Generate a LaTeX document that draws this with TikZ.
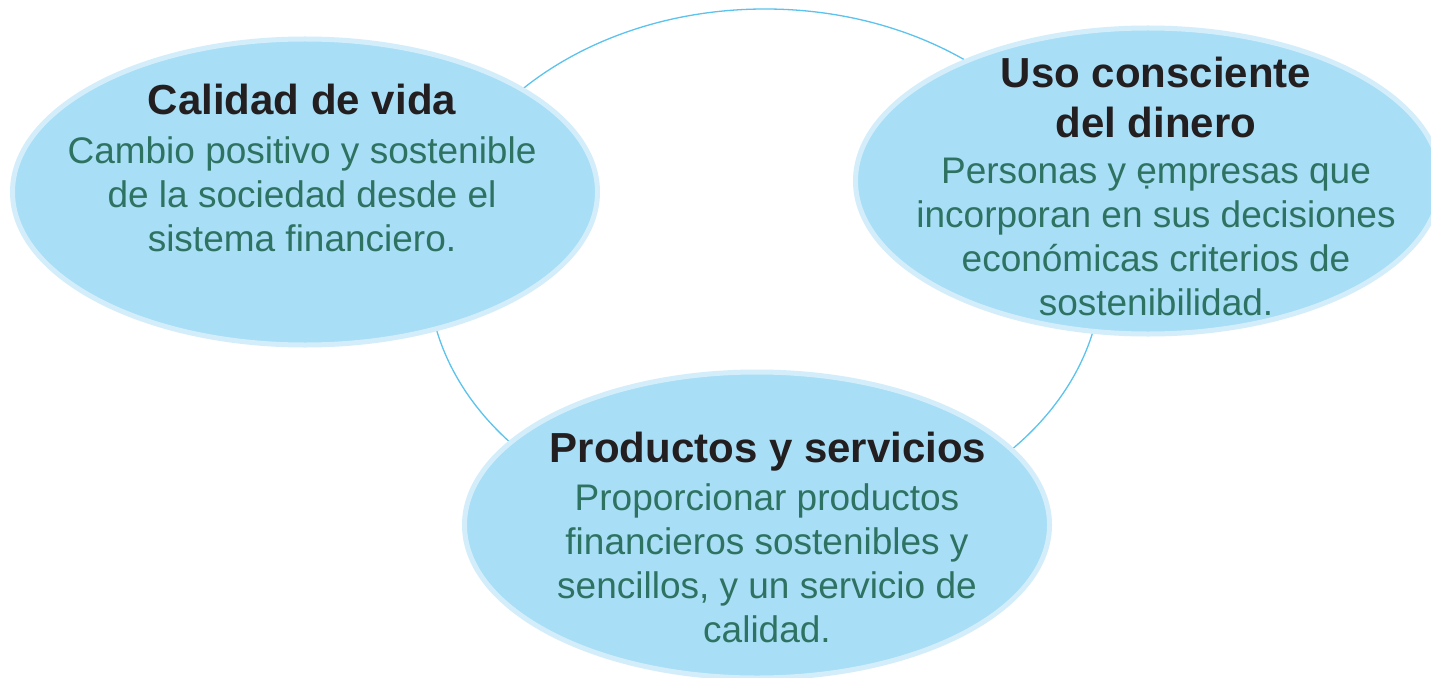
\documentclass[tikz,border=0pt]{standalone}
\usepackage{fontspec}
\setmainfont{Liberation Sans}
\usetikzlibrary{shapes.geometric}
\definecolor{bubblefill}{HTML}{A8DEF6}
\definecolor{bubbleedge}{HTML}{D3EEFA}
\definecolor{ringline}{HTML}{5CC3EE}
\definecolor{bodygreen}{HTML}{2E7262}
\definecolor{titleblack}{HTML}{231F20}
\begin{document}
\begin{tikzpicture}[x=1bp,y=-1bp,
  bubble/.style={ellipse, fill=bubblefill, draw=bubbleedge, line width=5bp, inner sep=0pt,
    minimum width=585bp, minimum height=306bp},
  ring/.style={ellipse, draw=ringline, line width=1.3bp, inner sep=0pt},
  titletext/.style={anchor=north, inner sep=0pt, align=center, text=titleblack,
    font=\fontsize{42bp}{50bp}\selectfont\bfseries},
  bodytext/.style={anchor=north, inner sep=0pt, align=center, text=bodygreen,
    font=\fontsize{37bp}{44bp}\selectfont}]
\useasboundingbox (0,0) rectangle (1431,678);
\clip (0,0) rectangle (1431,678);
\fill[white] (0,0) rectangle (1431,678);
% background ring
\node[ring, minimum width=674bp, minimum height=524bp] (cycle) at (765,271) {};
% bubbles
\node[bubble] (vida) at (305,192) {};
\node[bubble] (dinero) at (1148,181) {};
\node[bubble] (productos) at (757,525) {};
% texts
\node[titletext] (vidaT) at (302,84) {Calidad de vida};
\node[bodytext] (vidaB) at (302,136) {Cambio positivo y sostenible\\de la sociedad desde el\\sistema financiero.};
\node[titletext] (dineroT) at (1156,57) {Uso consciente\\del dinero};
\node[bodytext] (dineroB) at (1156,158) {Personas y ẹmpresas que\\incorporan en sus decisiones\\económicas criterios de\\sostenibilidad.};
\node[titletext] (productosT) at (768,432) {Productos y servicios};
\node[bodytext] (productosB) at (767,483) {Proporcionar productos\\financieros sostenibles y\\sencillos, y un servicio de\\calidad.};
\end{tikzpicture}
\end{document}
